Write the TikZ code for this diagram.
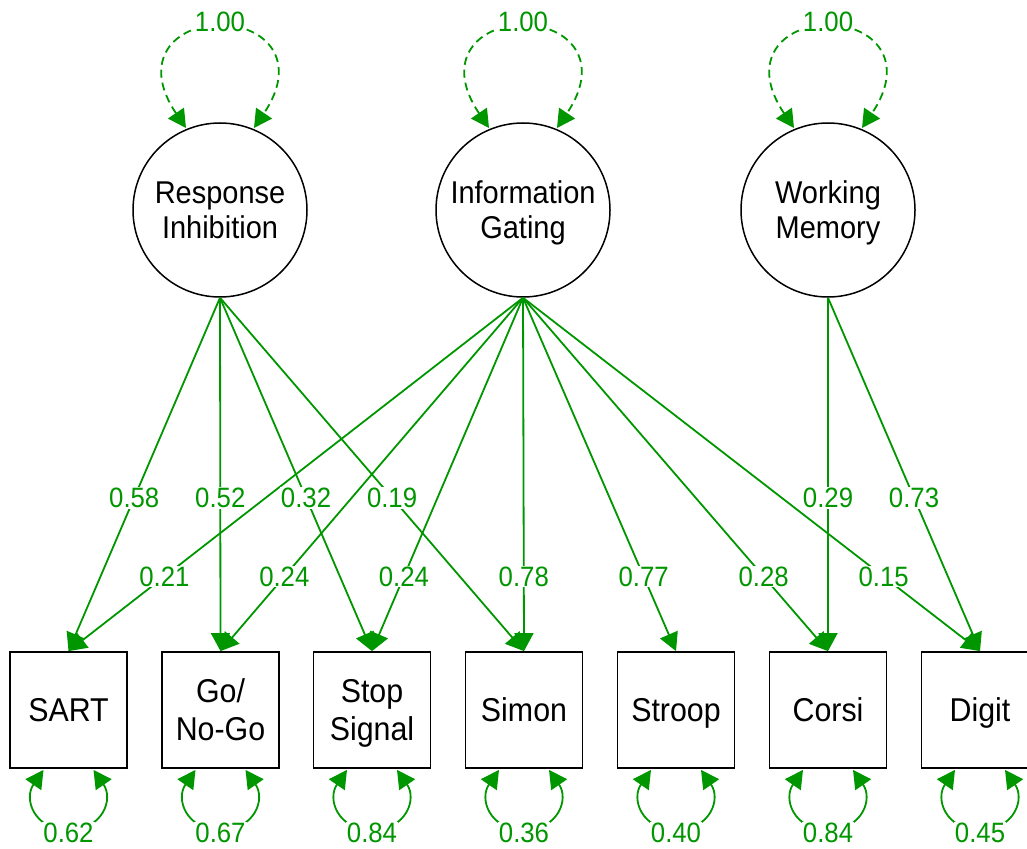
\documentclass[tikz,border=0pt]{standalone}
\usepackage{fontspec}
\setmainfont{Liberation Sans}
\newfontfamily\semfont[FakeStretch=0.92]{Liberation Sans}
\usetikzlibrary{arrows.meta}
\definecolor{semgreen}{RGB}{0,150,0}
% line strut balanced on the cap height, so text sits optically centred
\newcommand\capstrut{\vrule width 0pt height 0.9em depth 0.2em\relax}

\begin{document}
\begin{tikzpicture}[x=1pt,y=-1pt,
  latent/.style={circle,draw,line width=1.5pt,minimum size=174pt,inner sep=0pt,
    align=center,font=\semfont\fontsize{31.5}{35}\selectfont},
  manifest/.style={rectangle,draw,line width=1.8pt,minimum width=117pt,
    minimum height=116pt,inner sep=0pt,align=center,font=\semfont\fontsize{33}{36}\selectfont},
  load/.style={semgreen,line width=1.8pt,-{Triangle[length=18pt,width=19pt]}},
  var/.style={semgreen,line width=1.8pt,
    {Triangle[length=18pt,width=19pt]}-{Triangle[length=18pt,width=19pt]}},
  fixedvar/.style={var,dash pattern=on 8pt off 5pt},
  lbl/.style={fill=white,inner sep=1pt,text=semgreen,font=\semfont\fontsize{28}{30}\selectfont}
]
\useasboundingbox (0,0) rectangle (1027,848);
\clip (0,0) rectangle (1027,848);

% latent factors
\node[latent] (RI) at (220,210) {\capstrut Response\\\capstrut Inhibition};
\node[latent] (IG) at (523,210) {\capstrut Information\\\capstrut Gating};
\node[latent] (WM) at (828,210) {\capstrut Working\\\capstrut Memory};

% observed tasks
\node[manifest] (SART) at (68.5,710) {\capstrut SART};
\node[manifest] (GNG)  at (220.5,710) {\capstrut Go/\\\capstrut No-Go};
\node[manifest] (SST)  at (372,710) {\capstrut Stop\\\capstrut Signal};
\node[manifest] (SIM)  at (524,710) {\capstrut Simon};
\node[manifest] (STR)  at (676,710) {\capstrut Stroop};
\node[manifest] (COR)  at (828,710) {\capstrut Corsi};
\node[manifest] (DIG)  at (980,710) {\capstrut Digit};

% factor loadings
\foreach \s/\t in {RI/SART,RI/GNG,RI/SST,RI/SIM,
                   IG/SART,IG/GNG,IG/SST,IG/SIM,IG/STR,IG/COR,IG/DIG,
                   WM/COR,WM/DIG}
  \draw[load] (\s.south) -- (\t.north);

% loading values, placed over the lines
\foreach \s/\t/\p/\v in {RI/SART/0.566/0.58,RI/GNG/0.566/0.52,RI/SST/0.566/0.32,RI/SIM/0.566/0.19,
                         IG/SART/0.789/0.21,IG/GNG/0.789/0.24,IG/SST/0.789/0.24,IG/SIM/0.789/0.78,
                         IG/STR/0.789/0.77,IG/COR/0.789/0.28,IG/DIG/0.789/0.15,
                         WM/COR/0.566/0.29,WM/DIG/0.566/0.73}
  \path (\s.south) -- (\t.north) node[lbl,pos=\p] (l-\s-\t) {\v};

% fixed factor variances
\foreach \n in {RI,IG,WM}{
  \begin{scope}[shift={(\n)}]
    \draw[fixedvar] (-34,-82) .. controls (-80,-150) and (-45,-185) .. (0,-185)
                              .. controls (45,-185) and (80,-150) .. (34,-82);
    \node[lbl] (v-\n) at (0,-188) {1.00};
  \end{scope}
}

% residual variances
\foreach \n/\v in {SART/0.62,GNG/0.67,SST/0.84,SIM/0.36,STR/0.40,COR/0.84,DIG/0.45}{
  \begin{scope}[shift={(\n.south)}]
    \draw[var] (-25,1) .. controls (-45,30) and (-35,60) .. (0,62)
               .. controls (35,60) and (45,30) .. (25,1);
    \node[lbl] (e-\n) at (0,64) {\v};
  \end{scope}
}
\end{tikzpicture}
\end{document}
